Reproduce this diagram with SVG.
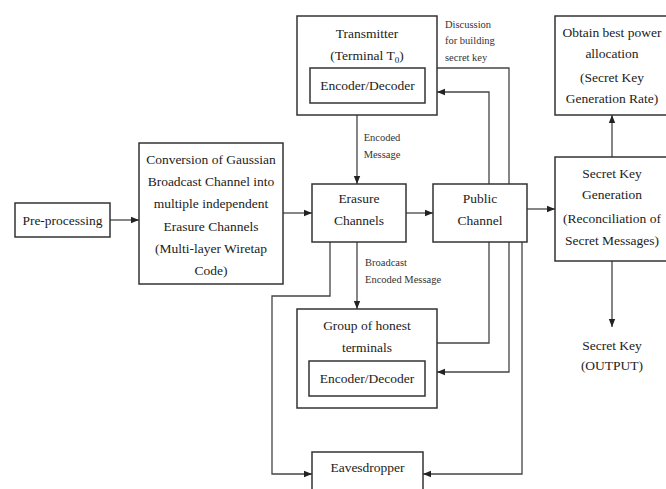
<svg xmlns="http://www.w3.org/2000/svg" width="666" height="489" viewBox="0 0 666 489">
<defs>
<marker id="ah" markerUnits="userSpaceOnUse" markerWidth="8" markerHeight="8" viewBox="0 0 8 8" refX="8" refY="4" orient="auto">
<path d="M0,0.8 L8,4 L0,7.2 Z" fill="#222"/>
</marker>
</defs>
<style>
.box{fill:#fff;stroke:#333;stroke-width:1.5}
.t{font-family:"Liberation Serif","Times New Roman",serif;font-size:13.5px;fill:#222;text-anchor:middle}
.s{font-family:"Liberation Serif","Times New Roman",serif;font-size:10.5px;fill:#333}
.c{fill:none;stroke:#444;stroke-width:1.3}
.a{marker-end:url(#ah)}
</style>
<rect width="666" height="489" fill="#fff"/>
<g id="connectors">
<path class="c a" d="M110 220 H139"/>
<path class="c a" d="M283 213 H312"/>
<path class="c a" d="M406 213 H433"/>
<path class="c a" d="M527 209 H555"/>
<path class="c a" d="M612 157 V115"/>
<path class="c a" d="M612 261 V327"/>
<path class="c a" d="M357 115 V184"/>
<path class="c a" d="M357 242 V309"/>
<path class="c" d="M437 68 H509 V184"/>
<path class="c a" d="M489 184 V92 H437"/>
<path class="c" d="M437 343 H489 V242"/>
<path class="c a" d="M509 242 V372 H437"/>
<path class="c a" d="M522 242 V474 H423"/>
<path class="c a" d="M330 242 V296 H272 V474 H312"/>
<text class="s" text-anchor="middle" x="382" y="141">Encoded</text>
<text class="s" text-anchor="middle" x="382" y="158">Message</text>
<text class="s" x="365" y="266">Broadcast</text>
<text class="s" x="365" y="283">Encoded Message</text>
<text class="s" x="445" y="28">Discussion</text>
<text class="s" x="445" y="44">for building</text>
<text class="s" x="445" y="61">secret key</text>
</g>
<g id="preprocessing">
<rect class="box" x="15" y="203" width="95" height="34"/>
<text class="t" x="62.5" y="225">Pre-processing</text>
</g>
<g id="conversion">
<rect class="box" x="139" y="143" width="144" height="141"/>
<text class="t" x="211" y="164">Conversion of Gaussian</text>
<text class="t" x="211" y="186">Broadcast Channel into</text>
<text class="t" x="211" y="208">multiple independent</text>
<text class="t" x="211" y="231">Erasure Channels</text>
<text class="t" x="211" y="253">(Multi-layer Wiretap</text>
<text class="t" x="211" y="275">Code)</text>
</g>
<g id="transmitter">
<rect class="box" x="297" y="16" width="140" height="99"/>
<text class="t" x="367" y="38">Transmitter</text>
<text class="t" x="367" y="60">(Terminal T<tspan font-size="9" dy="3">0</tspan><tspan dy="-3">)</tspan></text>
<rect class="box" x="310" y="68" width="115" height="35"/>
<text class="t" x="367.5" y="90">Encoder/Decoder</text>
</g>
<g id="erasure">
<rect class="box" x="312" y="184" width="94" height="58"/>
<text class="t" x="359" y="203">Erasure</text>
<text class="t" x="359" y="225">Channels</text>
</g>
<g id="public">
<rect class="box" x="433" y="184" width="94" height="58"/>
<text class="t" x="480" y="203">Public</text>
<text class="t" x="480" y="225">Channel</text>
</g>
<g id="obtain">
<rect class="box" x="555" y="16" width="115" height="99"/>
<text class="t" x="612" y="37">Obtain best power</text>
<text class="t" x="612" y="58">allocation</text>
<text class="t" x="612" y="82">(Secret Key</text>
<text class="t" x="612" y="103">Generation Rate)</text>
</g>
<g id="skg">
<rect class="box" x="555" y="157" width="115" height="104"/>
<text class="t" x="612" y="178">Secret Key</text>
<text class="t" x="612" y="199">Generation</text>
<text class="t" x="612" y="223">(Reconciliation of</text>
<text class="t" x="612" y="245">Secret Messages)</text>
</g>
<g id="output">
<text class="t" x="612" y="350">Secret Key</text>
<text class="t" x="612" y="370">(OUTPUT)</text>
</g>
<g id="group">
<rect class="box" x="297" y="309" width="140" height="99"/>
<text class="t" x="367" y="330">Group of honest</text>
<text class="t" x="367" y="352">terminals</text>
<rect class="box" x="309" y="361" width="116" height="35"/>
<text class="t" x="367" y="383">Encoder/Decoder</text>
</g>
<g id="eavesdropper">
<rect class="box" x="312" y="452" width="111" height="45"/>
<text class="t" x="367.5" y="472">Eavesdropper</text>
</g>
</svg>
